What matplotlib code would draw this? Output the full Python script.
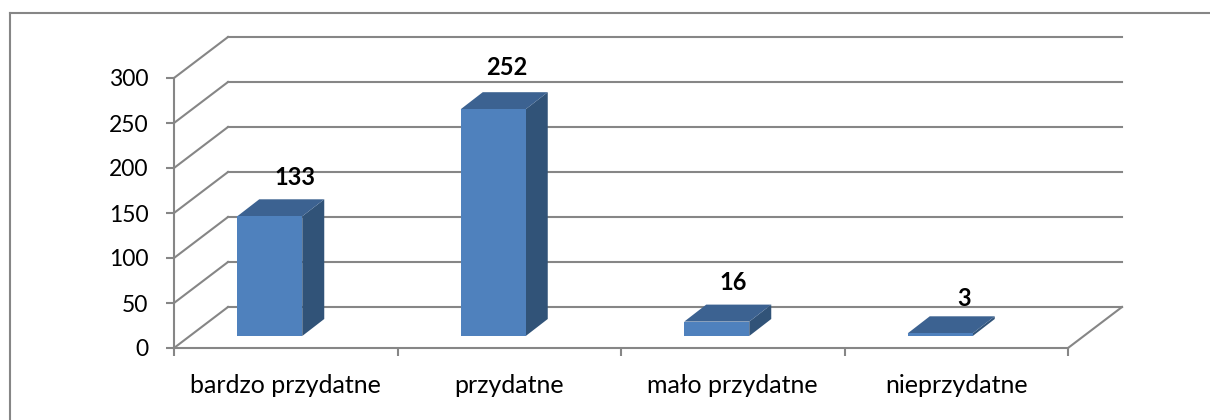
import matplotlib
matplotlib.use("Agg")
import matplotlib.pyplot as plt
from matplotlib.lines import Line2D
from matplotlib.patches import Polygon, Rectangle

categories = ["bardzo przydatne", "przydatne", "mało przydatne", "nieprzydatne"]
values = [133, 252, 16, 3]
y_ticks = [0, 50, 100, 150, 200, 250, 300]

GRID = "#868686"
FRONT = "#4F81BD"
TOP = "#3C6291"
SIDE = "#315378"

# data units per pixel, the wall and the bars are sheared by hand
PX_X = 4 / 894
PX_Y = 300 / 270
WALL_DX, WALL_DY = 54 * PX_X, 41 * PX_Y
BAR_DX, BAR_DY = 22 * PX_X, 17 * PX_Y
BASE_X, BASE_Y = -16 * PX_X, 12 * PX_Y
BAR_W = 65 * PX_X
LW = 1.5

plt.rcParams["font.family"] = ["Lato", "DejaVu Sans"]

fig = plt.figure(figsize=(12.1, 4.2), dpi=100, facecolor="white")
ax = fig.add_axes([174 / 1210, 72 / 420, 894 / 1210, 270 / 420])
ax.set_xlim(0, 4)
ax.set_ylim(0, 300)
ax.patch.set_visible(False)

# outer frame: only top and left are inside the picture
frame_x = 9.5 / 1210
frame_y = 1 - 13 / 420
fig.add_artist(Line2D([frame_x, 1], [frame_y, frame_y], transform=fig.transFigure, color=GRID, lw=LW))
fig.add_artist(Line2D([frame_x, frame_x], [0, frame_y], transform=fig.transFigure, color=GRID, lw=LW))

for s in ["top", "right"]:
    ax.spines[s].set_visible(False)
for s in ["left", "bottom"]:
    ax.spines[s].set_color(GRID)
    ax.spines[s].set_linewidth(LW)

ax.set_yticks(y_ticks)
ax.set_xticks(range(len(categories) + 1))
ax.set_xticklabels([])
ax.set_xticks([i + 0.5 for i in range(len(categories))], categories, minor=True)
ax.tick_params(axis="both", which="major", color=GRID, width=LW, length=5.5, labelsize=16.5, labelcolor="black", pad=13)
ax.tick_params(axis="x", which="minor", length=0, labelsize=18, labelcolor="black", pad=19)

# side wall and back wall
for v in y_ticks:
    ax.plot([0, WALL_DX], [v, v + WALL_DY], color=GRID, lw=LW, clip_on=False, zorder=1)
    ax.plot([WALL_DX, 4 + WALL_DX], [v + WALL_DY, v + WALL_DY], color=GRID, lw=LW, clip_on=False, zorder=1)
ax.plot([4, 4 + WALL_DX], [0, WALL_DY], color=GRID, lw=LW, clip_on=False, zorder=1)

# label nudges in pixels, relative to bar centre and top
label_dx = [25, 14, 16, 24]
label_dy = [39, 42, 39, 35]

for i, v in enumerate(values):
    x0 = i + 0.5 + BASE_X - BAR_W / 2
    x1 = x0 + BAR_W
    y0 = BASE_Y
    y1 = BASE_Y + v
    ax.add_patch(Polygon([(x1, y0), (x1 + BAR_DX, y0 + BAR_DY), (x1 + BAR_DX, y1 + BAR_DY), (x1, y1)],
                         facecolor=SIDE, edgecolor="none", clip_on=False, zorder=3))
    ax.add_patch(Polygon([(x0, y1), (x0 + BAR_DX, y1 + BAR_DY), (x1 + BAR_DX, y1 + BAR_DY), (x1, y1)],
                         facecolor=TOP, edgecolor="none", clip_on=False, zorder=3))
    ax.add_patch(Rectangle((x0, y0), BAR_W, v, facecolor=FRONT, edgecolor="none", clip_on=False, zorder=4))
    ax.text((x0 + x1) / 2 + label_dx[i] * PX_X, y1 + label_dy[i] * PX_Y, str(v), ha="center", va="center",
            fontsize=17, fontweight="bold", color="black", zorder=5)

fig.savefig("out.png", dpi=100)
